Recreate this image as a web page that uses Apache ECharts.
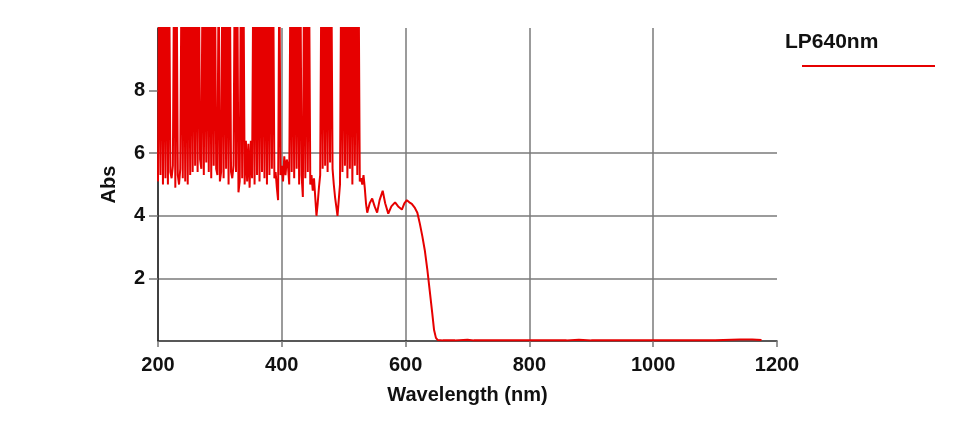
<!DOCTYPE html>
<html lang="en">
<head>
 <meta charset="UTF-8">
 <title>LP640nm</title>
</head>
<body style="margin:0;background:#fff;">
 <div id="main" style="width: 960px;height:434px;"></div>
 <script src="https://cdn.jsdelivr.net/npm/echarts@6/dist/echarts.min.js"></script>
 <script type="text/javascript">

var seriesName = 'LP640nm';
var xTicks = [200, 400, 600, 800, 1000, 1200];
var yTicks = [2, 4, 6, 8];

// noisy (saturated) part, sampled every 2 nm from 200 nm
var noiseStart = 200;
var noiseStep = 2;
var noiseAbs = [
  5.1, 12, 5.3, 12, 5.0, 12, 5.2, 12, 5.0, 12,
  5.4, 5.2, 5.6, 12, 4.9, 12, 5.3, 5.0, 5.5, 12,
  5.2, 12, 5.1, 12, 5.0, 12, 5.3, 12, 5.4, 12,
  5.6, 12, 5.4, 12, 5.8, 5.5, 12, 5.3, 12, 5.7,
  12, 5.4, 12, 5.2, 12, 5.6, 12, 5.5, 5.3, 12,
  5.1, 5.4, 12, 5.2, 12, 5.5, 12, 5.0, 12, 5.4,
  5.2, 5.6, 12, 5.4, 12, 4.75, 5.1, 12, 5.2, 12,
  5.0, 6.4, 5.1, 6.3, 4.9, 6.4, 5.2, 12, 5.0, 12,
  5.3, 12, 5.1, 12, 5.4, 12, 5.2, 12, 5.0, 12,
  5.3, 12, 5.5, 12, 5.2, 5.4, 4.9, 4.5, 12, 5.3,
  5.6, 5.1, 5.9, 5.3, 5.8, 5.6, 5.0, 12, 5.4, 12,
  5.2, 12, 5.5, 12, 5.0, 12, 5.3, 4.6, 12, 5.2,
  12, 5.4, 12, 5.0, 5.3, 4.8, 5.2, 4.6, 4.0, 4.4,
  4.9, 5.3, 12, 5.5, 12, 5.6, 12, 5.4, 12, 5.7,
  12, 5.5, 5.0, 4.6, 4.3, 4.0, 4.5, 5.0, 12, 5.4,
  12, 5.6, 12, 5.2, 12, 5.5, 12, 5.0, 12, 5.6,
  12, 5.3, 12, 5.1
];

// rest of the spectrum
var tailNm = [528, 530, 532, 534, 536, 538, 542, 546, 550, 554, 558, 563, 567, 572, 577,
  583, 588, 594, 598, 602, 606, 610, 615, 619, 623, 627, 631, 635, 639, 643, 646, 649, 652,
  660, 680, 700, 710, 730, 800, 860, 880, 900, 1000, 1100, 1140, 1160, 1175];
var tailAbs = [5.2, 5.0, 5.3, 4.9, 4.4, 4.1, 4.4, 4.55, 4.3, 4.1, 4.5, 4.8, 4.4, 4.07, 4.3,
  4.43, 4.3, 4.2, 4.4, 4.5, 4.43, 4.38, 4.25, 4.1, 3.75, 3.35, 2.9, 2.3, 1.6, 0.9, 0.35, 0.1, 0.03,
  0.02, 0.02, 0.04, 0.02, 0.02, 0.02, 0.02, 0.04, 0.02, 0.02, 0.02, 0.05, 0.05, 0.03];

var spectrum = [];
noiseAbs.forEach(function (v, i) {
    spectrum.push([noiseStart + i * noiseStep, v]);
});
tailNm.forEach(function (nm, i) {
    spectrum.push([nm, tailAbs[i]]);
});

var myChart = echarts.init(document.getElementById('main'));
var font = 'Liberation Sans, Arial, sans-serif';

myChart.setOption({
    backgroundColor: '#fff',
    animation: false,
    textStyle: { fontFamily: font },
    title: {
        text: seriesName,
        left: 780,
        top: 27,
        textStyle: { fontSize: 21, fontWeight: 'bold', color: '#111', fontFamily: font }
    },
    legend: {
        left: 797,
        top: 60,
        icon: 'rect',
        itemWidth: 133,
        itemHeight: 2,
        formatter: function () { return ''; },
        data: [seriesName]
    },
    grid: { left: 158, right: 183, top: 28, bottom: 93 },
    xAxis: {
        type: 'value',
        min: xTicks[0],
        max: xTicks[xTicks.length - 1],
        interval: 200,
        name: 'Wavelength (nm)',
        nameLocation: 'middle',
        nameGap: 44,
        nameTextStyle: { fontSize: 20, fontWeight: 'bold', color: '#111' },
        axisLine: { lineStyle: { color: '#222', width: 1.5 } },
        axisTick: { show: true, length: 6, lineStyle: { color: '#777', width: 1.5 } },
        axisLabel: {
            margin: 14, fontSize: 20, fontWeight: 'bold', color: '#111',
            formatter: function (v) { return String(v); }
        },
        splitLine: { show: true, showMaxLine: false, lineStyle: { color: '#7a7a7a', width: 1.5 } }
    },
    yAxis: {
        type: 'value',
        min: 0,
        max: 10,
        interval: 2,
        name: 'Abs',
        nameLocation: 'middle',
        nameGap: 39,
        nameTextStyle: { fontSize: 20, fontWeight: 'bold', color: '#111' },
        axisLine: { show: true, lineStyle: { color: '#222', width: 1.5 } },
        axisTick: { show: true, length: 9, customValues: yTicks, lineStyle: { color: '#777', width: 1.5 } },
        axisLabel: {
            margin: 13, fontSize: 20, fontWeight: 'bold', color: '#111',
            customValues: yTicks
        },
        splitLine: { show: true, showMaxLine: false, lineStyle: { color: '#7a7a7a', width: 1.5 } }
    },
    series: [{
        name: seriesName,
        type: 'line',
        data: spectrum,
        symbol: 'none',
        clip: true,
        color: '#e60000',
        lineStyle: { color: '#e60000', width: 2 }
    }]
});
 </script>
</body>
</html>
